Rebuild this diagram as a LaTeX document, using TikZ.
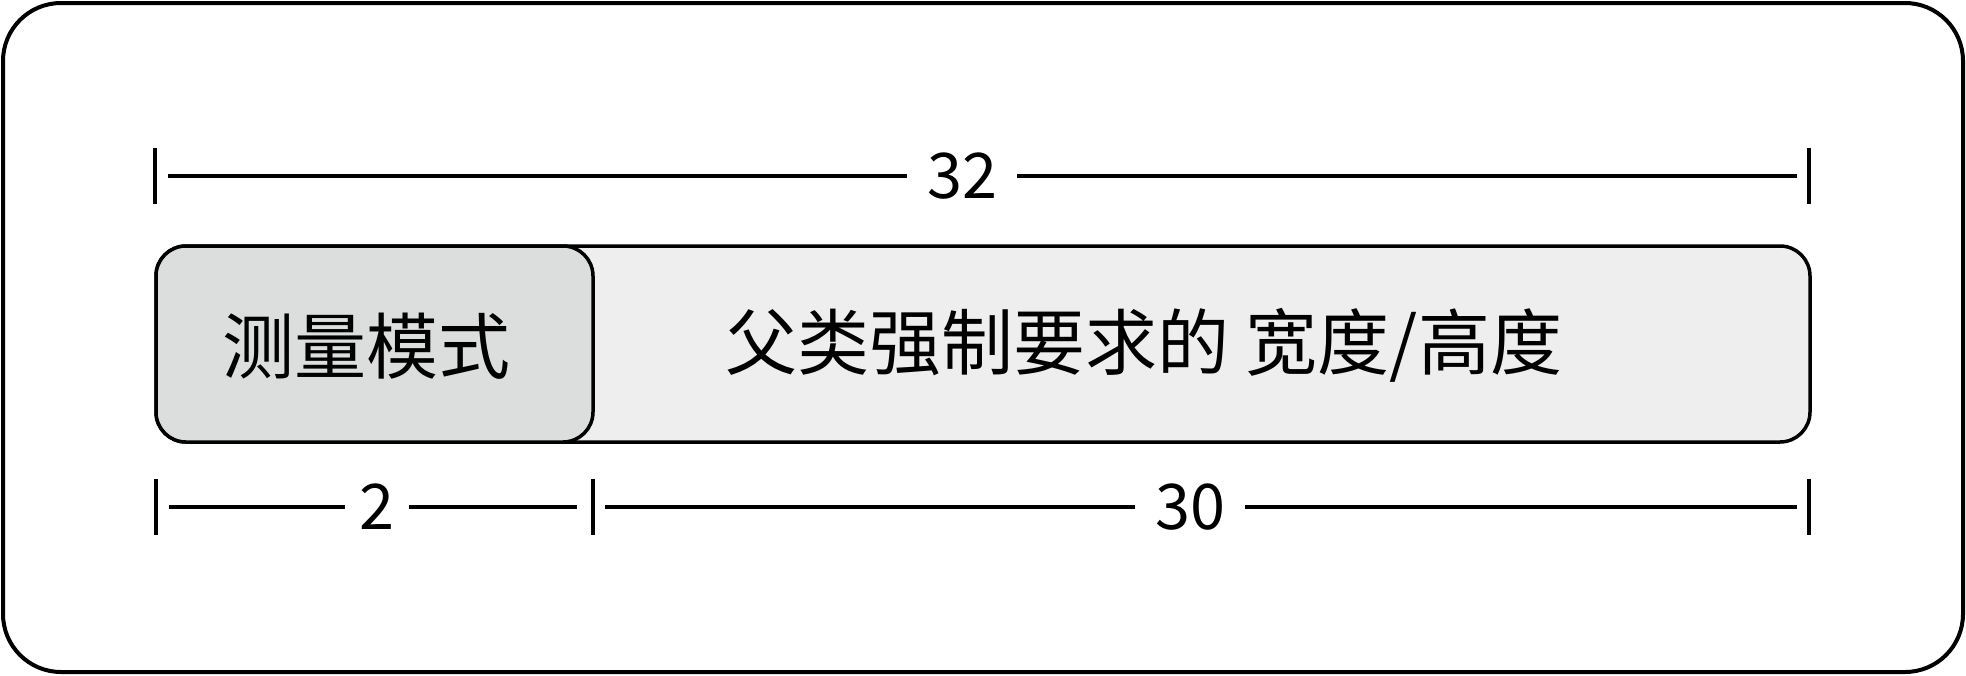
\documentclass[tikz,border=0pt]{standalone}
\usepackage{fontspec}
\setmainfont{Noto Sans CJK SC}
\usetikzlibrary{calc}
\definecolor{modegray}{HTML}{DCDEDD}
\definecolor{barlight}{HTML}{EEEEEE}
\tikzset{
  frame/.style={draw=black, line width=4pt, rounded corners=58pt},
  barbox/.style={draw=black, line width=3.5pt, rounded corners=30pt, fill=barlight,
    minimum height=196pt, inner sep=0pt},
  modebox/.style={draw=black, line width=3.5pt, rounded corners=30pt, fill=modegray,
    minimum height=196pt, minimum width=437pt, inner sep=0pt},
  bigtext/.style={inner sep=0pt, font=\fontsize{72pt}{80pt}\selectfont},
  dimlabel/.style={inner ysep=0pt, inner xsep=20pt, font=\fontsize{63pt}{70pt}\selectfont},
  dimline/.style={draw=black, line width=3.5pt},
  tickmark/.style={draw=black, line width=3.5pt},
}
\begin{document}
\begin{tikzpicture}[x=1pt,y=-1pt]
\useasboundingbox (0,0) rectangle (1966,675);
\draw[frame] (3,3) rectangle (1963,672);

% bar
\node[barbox, minimum width=1654pt] (bar) at (983,344) {};
\node[modebox] (mode) at (374.5,344) {};
\node[bigtext] (modetext) at (366,346) {测量模式};
\node[bigtext] (req) at (1144,345) {父类强制要求的 宽度/高度};

% top dimension
\coordinate (t1) at (155,176);
\coordinate (t2) at (1809,176);
\draw[tickmark] ($(t1)+(0,-28)$) -- ($(t1)+(0,28)$);
\draw[tickmark] ($(t2)+(0,-28)$) -- ($(t2)+(0,28)$);
\node[dimlabel] (n32) at (962,176) {32};
\draw[dimline, shorten <=13pt] (t1) -- (n32);
\draw[dimline, shorten <=12pt] (t2) -- (n32);

% bottom dimension
\coordinate (b1) at (156,507);
\coordinate (b2) at (593,507);
\coordinate (b3) at (1809,507);
\foreach \c in {b1,b2,b3}{
  \draw[tickmark] ($(\c)+(0,-28)$) -- ($(\c)+(0,28)$);
}
\node[dimlabel, inner xsep=14pt] (n2) at (377,507) {2};
\node[dimlabel] (n30) at (1190,507) {30};
\draw[dimline, shorten <=13pt] (b1) -- (n2);
\draw[dimline, shorten <=16pt] (b2) -- (n2);
\draw[dimline, shorten <=12pt] (b2) -- (n30);
\draw[dimline, shorten <=12pt] (b3) -- (n30);
\end{tikzpicture}
\end{document}
